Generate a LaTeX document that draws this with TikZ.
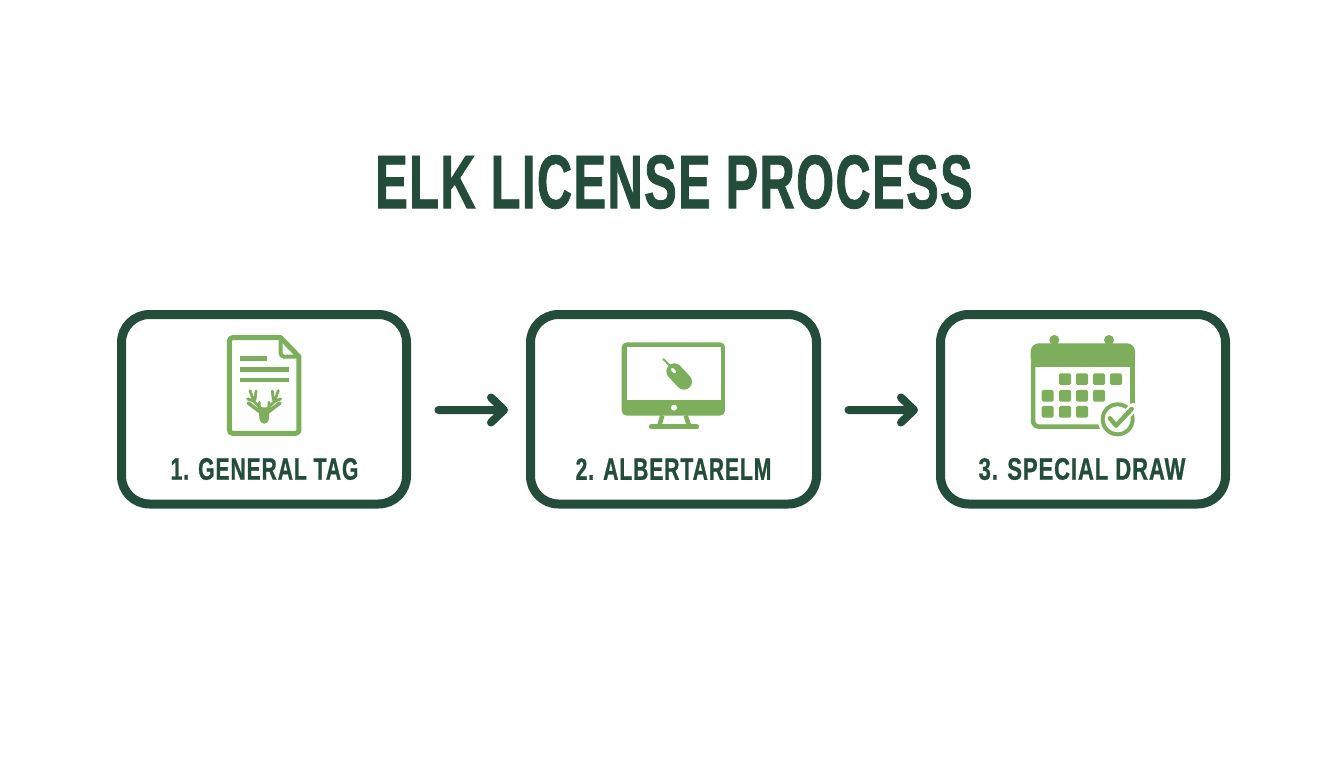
\documentclass[tikz,border=0pt]{standalone}
\usepackage{fontspec}
\newfontfamily\ttlfont[FakeStretch=0.64,FakeBold=1,LetterSpace=2]{Liberation Sans Bold}
\newfontfamily\lblfont[FakeStretch=0.68,FakeBold=0.8,LetterSpace=3]{Liberation Sans Bold}
\newfontfamily\lblwide[FakeStretch=0.71,FakeBold=0.8,LetterSpace=3]{Liberation Sans Bold}
\definecolor{dk}{HTML}{234D3A}
\definecolor{lg}{HTML}{7DAE5B}
\tikzset{
  stepbox/.style={draw=dk,line width=9pt,rounded corners=28pt},
  flow/.style={draw=dk,line width=8pt,line cap=round,line join=round},
  ttl/.style={text=dk,font=\ttlfont\fontsize{76}{76}\selectfont,inner sep=0pt},
  lbl/.style={text=dk,font=\lblfont\fontsize{31}{31}\selectfont,inner sep=0pt},
  lblw/.style={text=dk,font=\lblwide\fontsize{31}{31}\selectfont,inner sep=0pt},
  ico/.style={shift={#1},x=0.3333pt,y=-0.3333pt},
  gl/.style={draw=lg,line cap=round,line join=round},
}
\begin{document}
\begin{tikzpicture}[x=1pt,y=-1pt]
\useasboundingbox[fill=white] (0,0) rectangle (1344,768);
\node[ttl] (title) at (674,182) {ELK LICENSE PROCESS};
\coordinate (b1a) at (121.5,314.5); \coordinate (b1b) at (406.5,504);
\coordinate (b2a) at (530.5,314.5); \coordinate (b2b) at (816.5,504);
\coordinate (b3a) at (940.5,314.5); \coordinate (b3b) at (1225.5,504);
\draw[stepbox] (b1a) rectangle (b1b);
\draw[stepbox] (b2a) rectangle (b2b);
\draw[stepbox] (b3a) rectangle (b3b);
\node[lbl] (l1) at (264.5,469) {1. GENERAL TAG};
\node[lbl] (l2) at (673.5,469) {2. ALBERTARELM};
\node[lblw] (l3) at (1082,469) {3. SPECIAL DRAW};
% arrows
\coordinate (a1s) at (438.5,410); \coordinate (a1e) at (504,410);
\coordinate (a2s) at (848.5,410); \coordinate (a2e) at (914,410);
\draw[flow] (a1s) -- (a1e) (491,397.5) -- (a1e) -- (491,422.5);
\draw[flow] (a2s) -- (a2e) (901,397.5) -- (a2e) -- (901,422.5);
% document icon
\begin{scope}[ico={(210,325)}]
\draw[gl,line width=5pt] (212,38) -- (68,38) to[out=180,in=90,looseness=1] (58,48) -- (58,315) to[out=-90,in=180] (68,325) -- (257,325) to[out=0,in=-90] (267,315) -- (267,95) -- cycle;
\draw[gl,line width=4pt] (212,38) -- (212,85) to[out=-90,in=180] (222,95) -- (267,95);
\draw[gl,line width=4.5pt,line cap=butt] (90,101) -- (172,101) (90,134) -- (237,134) (90,165) -- (237,165);
% deer
\fill[lg] (143,247) -- (182,247) -- (177,272) to[out=-80,in=0] (163,296) to[out=180,in=-100] (148,272) -- cycle;
\draw[gl,line width=3.6pt] (115,234) -- (148,259) (210,234) -- (177,259);
\draw[gl,line width=2.8pt] (154,252) -- (132,230) -- (120,197) (130,228) -- (113,222) (135,225) -- (138,198) (148,245) -- (148,232);
\draw[gl,line width=2.8pt] (171,252) -- (193,230) -- (205,197) (195,228) -- (212,222) (190,225) -- (187,198) (177,245) -- (177,232);
\end{scope}
% monitor icon
\begin{scope}[ico={(610,330)}]
\fill[lg,rounded corners=5pt] (35,37) rectangle (345,257);
\fill[white] (50,50) rectangle (332,210);
\fill[white] (192,233) circle[radius=9];
\draw[gl,line width=4.5pt,line cap=butt] (157,257) -- (147,289) (227,257) -- (238,289);
\draw[gl,line width=5pt] (124,290) -- (260,290);
\draw[gl,line width=2pt] (160,87) -- (182,110);
\draw[gl,line width=16pt] (193,124) -- (222,155);
\draw[white,line width=3pt,line cap=round] (187,118) -- (194,126);
\end{scope}
% calendar icon
\begin{scope}[ico={(1020,325)}]
\fill[lg] (103,45) circle[radius=15] (267,45) circle[radius=15];
\fill[lg,rounded corners=8pt] (32,122) -- (32,55) -- (345,55) -- (345,122) -- cycle;
\fill[lg] (32,100) rectangle (345,125);
\draw[gl,line width=4.5pt,line cap=butt,rounded corners=6pt] (39,115) -- (39,305) -- (240,305);
\draw[gl,line width=4.5pt,line cap=butt] (338,115) -- (338,240);
\foreach \x/\y in {117/145,168/145,219/145,270/145,65/195,117/195,168/195,219/195,65/243,117/243,168/243}
  \fill[lg,rounded corners=1.5pt] (\x,\y) rectangle +(36,35);
\fill[white] (293,283) circle[radius=60];
\draw[gl,line width=4pt] (293,283) circle[radius=45];
\draw[white,line width=9pt,line cap=round,line join=round] (300,290) -- (340,247);
\draw[gl,line width=4.5pt] (270,280) -- (288,302) -- (335,252);
\end{scope}
\end{tikzpicture}
\end{document}
